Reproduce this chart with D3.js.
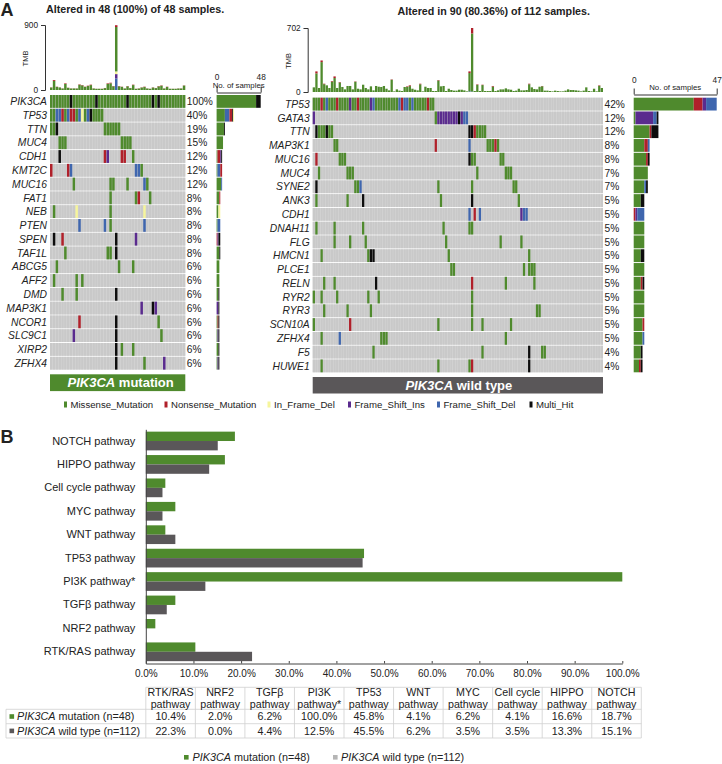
<!DOCTYPE html>
<html><head><meta charset="utf-8">
<script src="https://cdn.jsdelivr.net/npm/d3@7/dist/d3.min.js"></script>
<style>html,body{margin:0;padding:0;background:#fff}svg{display:block}text{font-family:"Liberation Sans",Arial,sans-serif;fill:#222}</style>
</head><body><svg id="c" width="722" height="764"></svg>
<script>
// ---------- data: oncoplots ----------
const mutTypes = ["Missense_Mutation","Nonsense_Mutation","In_Frame_Del","Frame_Shift_Ins","Frame_Shift_Del","Multi_Hit"];
const mutCodes = ["M","N","I","S","D","H"];
const mutColors = ["#4f8a2d","#b0202a","#f6f59c","#5a2b8e","#3f66ae","#0d0d0d"];

const leftGenes = ["PIK3CA","TP53","TTN","MUC4","CDH1","KMT2C","MUC16","FAT1","NEB","PTEN","SPEN","TAF1L","ABCG5","AFF2","DMD","MAP3K1","NCOR1","SLC9C1","XIRP2","ZFHX4"];
const leftPct = ["100%","40%","19%","15%","12%","12%","12%","8%","8%","8%","8%","8%","6%","6%","6%","6%","6%","6%","6%","6%"];
const leftMuts = [
 "0-6M 7H 8-15M 16H 17-26M 27H 28-35M 36H 37M 38H 39-47M",
 "0-1M 2-3D 4N 5M 6D 7-8N 9M 10D 11I 12M 13D 14H 15-18M",
 "0-1M 2H 19-24M",
 "3-5M 25-28M",
 "3H 19N 20S 25-26N 29M",
 "0N 6N 7D 30-31D 32M",
 "8M 21-22M 27M 33D 34M",
 "21M 30M 31N 35M",
 "1M 9I 21M 33I",
 "10D 19D 21M 33D",
 "1H 4N 23H 30S",
 "5M 20-21M 23H",
 "2M 24M 29M",
 "1M 9M 11M",
 "4M 9M 23H",
 "32S 36H 37S",
 "10N 23H 38M",
 "8S 23H 39M",
 "23H 25M 29M",
 "23H 33M 40S"];

const rightGenes = ["TP53","GATA3","TTN","MAP3K1","MUC16","MUC4","SYNE2","ANK3","CDH1","DNAH11","FLG","HMCN1","PLCE1","RELN","RYR2","RYR3","SCN10A","ZFHX4","F5","HUWE1"];
const rightPct = ["42%","12%","12%","8%","8%","7%","7%","5%","5%","5%","5%","5%","5%","5%","5%","5%","5%","5%","4%","4%"];
const rightMuts = [
 "0-2M 3N 4M 5D 6-8M 9N 10-13M 14S 15-16M 17N 18-21M 22S 23D 24-32M 33D 34N 35-36D 37M 38D 39-43M 44N 45-46M",
 "0S 47M 48-55S 56H 57S 58-59D",
 "1H 2-4M 5H 6-7M 60-61H 62N 63-66M",
 "8-9M 47N 60D 67-69M 70N 71M",
 "1N 10-12M 60H 61-62M 72-73M",
 "2M 13-15M 63M 74-76M",
 "1H 16-17M 18D 48M 61M 77-78M",
 "1M 13M 19H 49M 61H 79M",
 "60D 62N 64D 80S 81-82D",
 "1M 8M 19M 50M 60-61M",
 "8M 14M 20M 51M 72M 80M",
 "3M 21M 22-23H 52M 83M",
 "53-54M 81M 83-85M",
 "4M 8M 24H 61N 74M 85M",
 "0M 3M 9M 21M 25M 61M",
 "4M 13M 22M 61M 86-87M",
 "0M 14N 48M 61M 65M 76M",
 "3M 10D 26-28M 74M",
 "23M 65M 83H 88-89M",
 "3M 48M 60M 61N 83H"];

// ---------- data: tumour mutation burden ----------
const tmbLeftTotal = [37,138,46,37,23,92,32,23,23,23,78,69,46,60,74,23,18,18,18,28,92,101,55,897,55,46,23,55,28,74,18,23,37,46,23,18,37,28,55,64,23,46,18,18,18,23,23,64];
const tmbLeftNonsense = [3,12,3,2,2,8,2,2,1,2,6,5,4,5,6,2,1,1,2,2,8,8,4,25,4,3,2,4,2,6,2,3,3,5,2,1,3,2,5,5,2,4,1,1,1,2,2,3];
const tmbLeftDel = [[23,160]];
const tmbLeftIns = [[23,60]];
const tmbLeftInFrame = [[23,37]];
const tmbRightTotal = [51,226,44,346,91,73,44,120,171,44,109,55,29,66,66,29,116,36,29,80,44,29,62,18,66,58,55,66,36,18,138,7,29,15,11,55,62,73,36,25,18,91,7,58,44,44,11,11,131,62,66,11,36,22,15,15,25,25,18,7,226,702,11,84,11,80,11,11,11,66,11,18,29,29,40,29,25,11,15,36,18,18,22,91,51,33,29,58,66,15,15,11,7,15,11,7,7,15,29,22,22,18,15,7,15,51,11,7,36,7,73,44];
const tmbRightNonsense = [[1,22],[3,18],[4,5],[7,7],[8,18],[10,5],[16,4],[30,4],[36,6],[37,8],[41,6],[48,5],[60,18],[61,60],[63,5],[65,4],[69,7],[83,6],[88,3],[110,5]];
const tmbRightDel = [[60,7],[61,5]];

// ---------- data: pathways ----------
const pathwayCols = ["RTK/RAS","NRF2","TGFβ","PI3K","TP53","WNT","MYC","Cell cycle","HIPPO","NOTCH"];
const pathwayAxis = ["NOTCH pathway","HIPPO pathway","Cell cycle pathway","MYC pathway","WNT pathway","TP53 pathway","PI3K pathway*","TGFβ pathway","NRF2 pathway","RTK/RAS pathway"];
const pathwayHead2 = ["pathway","pathway","pathway","pathway*","pathway","pathway","pathway","pathway","pathway","pathway"];
const pathMutated = [10.4,2.0,6.2,100.0,45.8,4.1,6.2,4.1,16.6,18.7];
const pathWild = [22.3,0.0,4.4,12.5,45.5,6.2,3.5,3.5,13.3,15.1];
const pctTicks = [0,10,20,30,40,50,60,70,80,90,100];
const GREEN = "#4f8a2d", GREY = "#5a5759";

// ---------- helpers ----------
const svg = d3.select("#c");
function parseMuts(str){
  const out=[];
  str.split(" ").forEach(tok=>{
    const m=tok.match(/^(\d+)(?:-(\d+))?([A-Z])$/);
    const a=+m[1], b=m[2]?+m[2]:a;
    for(let i=a;i<=b;i++) out.push({i,code:m[3]});
  });
  return out;
}
const color = d3.scaleOrdinal(mutCodes,mutColors);

function oncoplot(o){
  const muts=o.muts.map(parseMuts);
  const x=d3.scaleBand(d3.range(o.n),[o.x0,o.x1]).paddingInner(0.12).paddingOuter(0);
  const y=d3.scaleBand(o.genes,[o.y0,o.y1]).paddingInner(0.07).paddingOuter(0);
  const g=svg.append("g");
  // rows
  g.append("g").selectAll("rect").data(o.genes).join("rect")
    .attr("x",o.x0).attr("width",o.x1-o.x0).attr("y",d=>y(d)).attr("height",y.bandwidth()).attr("fill","#dcdcdc");
  o.genes.forEach((gene,r)=>{
    g.append("g").selectAll("rect").data(d3.range(o.n)).join("rect")
      .attr("x",d=>x(d)).attr("width",x.bandwidth()).attr("y",y(gene)).attr("height",y.bandwidth()).attr("fill","#c9c9c9");
    g.append("g").selectAll("rect").data(muts[r]).join("rect")
      .attr("x",d=>x(d.i)).attr("width",x.bandwidth()).attr("y",y(gene)).attr("height",y.bandwidth()).attr("fill",d=>color(d.code));
  });
  // labels
  g.append("g").selectAll("text").data(o.genes).join("text")
    .attr("x",o.x0-3).attr("y",d=>y(d)+y.bandwidth()/2).attr("dy","0.36em").attr("text-anchor","end")
    .attr("font-size",10.3).attr("font-style","italic").text(d=>d);
  g.append("g").selectAll("text").data(o.pct).join("text")
    .attr("x",o.x1+1.5).attr("y",(d,i)=>y(o.genes[i])+y.bandwidth()/2).attr("dy","0.36em")
    .attr("font-size",10.2).attr("fill","#333").text(d=>d);
  // TMB stack
  const rows=o.tmb.map(r=>r);
  const stack=d3.stack().keys(["D","S","I","M","N"])(rows);
  const ty=d3.scaleLinear([0,o.tmbMax],[o.tmbY0,o.tmbY1]);
  g.append("g").selectAll("g").data(stack).join("g").attr("fill",s=>color(s.key))
    .selectAll("rect").data(s=>s).join("rect")
    .attr("x",(d,i)=>x(i)).attr("width",x.bandwidth())
    .attr("y",d=>ty(d[1])).attr("height",d=>Math.max(0,ty(d[0])-ty(d[1])));
  const ax=g.append("g").attr("transform",`translate(${o.x0-5},0)`)
    .call(d3.axisLeft(ty).tickValues([0,o.tmbMax]).tickSize(4).tickPadding(3));
  ax.selectAll("text").attr("font-size",8.3).attr("font-family",null);
  ax.selectAll("path,line").attr("stroke","#333");
  g.append("text").attr("transform",`translate(${o.x0-o.tmbLabelDx},${(o.tmbY0+o.tmbY1)/2+1}) rotate(-90)`)
    .attr("text-anchor","middle").attr("dy","0.35em").attr("font-size",7.5).attr("fill","#333").text("TMB");
  // side bars
  const sx=d3.scaleLinear([0,o.sideMax],[o.sx0,o.sx1]);
  muts.forEach((list,r)=>{
    const counts=d3.rollup(list,v=>v.length,d=>d.code);
    let acc=0;
    o.sideOrder.forEach(c=>{
      const v=counts.get(c)||0;
      if(!v) return;
      g.append("rect").attr("x",sx(acc)).attr("width",sx(acc+v)-sx(acc))
       .attr("y",y(o.genes[r])).attr("height",y.bandwidth()).attr("fill",color(c));
      acc+=v;
    });
  });
  const sa=g.append("g").attr("transform",`translate(0,${o.sideAxisY})`)
    .call(d3.axisTop(sx).tickValues([0,o.sideMax]).tickSizeOuter(0).tickSizeInner(6).tickPadding(o.sidePad));
  sa.selectAll("text").attr("font-size",8.3).attr("font-family",null);
  sa.selectAll("path,line").attr("stroke","#333");
  g.append("text").attr("x",(o.sx0+o.sx1)/2).attr("y",o.sideAxisY-4.2).attr("text-anchor","middle")
    .attr("font-size",7.8).attr("fill","#333").text("No. of samples");
  // title
  svg.append("text").attr("x",o.titleX).attr("y",o.titleY).attr("font-size",10.7).attr("font-weight","bold").text(o.title);
  // banner
  g.append("rect").attr("x",o.x0).attr("width",o.x1-o.x0).attr("y",o.banY).attr("height",o.banH).attr("fill",o.banFill);
  const bt=g.append("text").attr("x",(o.x0+o.x1)/2+o.banDx).attr("y",o.banY+o.banH/2).attr("dy","0.36em")
    .attr("text-anchor","middle").attr("font-size",13).attr("font-weight","bold");
  bt.append("tspan").attr("font-style","italic").style("fill","#fff").text("PIK3CA");
  bt.append("tspan").style("fill","#fff").text(" "+o.banText);
}

// table rows for the stack
const leftRows = tmbLeftTotal.map((t,i)=>{
  const get=a=>{const f=a.find(e=>e[0]===i);return f?f[1]:0;};
  const D=get(tmbLeftDel),S=get(tmbLeftIns),I=get(tmbLeftInFrame),N=tmbLeftNonsense[i];
  return {D,S,I,N,M:t-D-S-I-N};
});
const rightRows = tmbRightTotal.map((t,i)=>{
  const get=a=>{const f=a.find(e=>e[0]===i);return f?f[1]:0;};
  const D=get(tmbRightDel),N=get(tmbRightNonsense);
  return {D,S:0,I:0,N,M:t-D-N};
});

oncoplot({n:48,genes:leftGenes,pct:leftPct,muts:leftMuts,tmb:leftRows,x0:50,x1:185.3,y0:95,y1:369.6,
  tmbMax:900,tmbY0:90,tmbY1:25,tmbLabelDx:24.5,sx0:216.6,sx1:260.7,sideMax:48,sideAxisY:92.5,sidePad:6.2,sideOrder:["M","D","N","S","H","I"],
  title:"Altered in 48 (100%) of 48 samples.",titleX:46,titleY:12.5,banY:374.3,banH:16.8,banFill:GREEN,banText:"mutation",banDx:3});
oncoplot({n:112,genes:rightGenes,pct:rightPct,muts:rightMuts,tmb:rightRows,x0:312.7,x1:603,y0:97.7,y1:372.3,
  tmbMax:702,tmbY0:92,tmbY1:28,tmbLabelDx:24.5,sx0:633.7,sx1:716.7,sideMax:47,sideAxisY:94.5,sidePad:5.5,sideOrder:["M","N","I","S","D","H"],
  title:"Altered in 90 (80.36%) of 112 samples.",titleX:397.5,titleY:15,banY:377,banH:16.5,banFill:GREY,banText:"wild type",banDx:1});

svg.append("text").attr("x",0.5).attr("y",15.5).attr("font-size",18).attr("font-weight","bold").attr("fill","#111").text("A");
svg.append("text").attr("x",0.5).attr("y",442.5).attr("font-size",18).attr("font-weight","bold").attr("fill","#111").text("B");

// mutation legend
const legendX = d3.scaleOrdinal(mutCodes,[64,164.5,267.5,348,437,529.5]);
const lg=svg.append("g").selectAll("g").data(mutCodes).join("g").attr("transform",d=>`translate(${legendX(d)},404.5)`);
lg.append("rect").attr("x",0).attr("y",-3).attr("width",3).attr("height",6).attr("fill",d=>color(d));
lg.append("text").attr("x",6.5).attr("dy","0.36em").attr("font-size",9.6).attr("fill","#333").text((d,i)=>mutTypes[i]);

// ---------- panel B ----------
const bx=d3.scaleLinear([0,100],[145.8,622.3]);
const by=d3.scaleBand(pathwayAxis,[429.3,663.5]).paddingInner(0.2).paddingOuter(0.1);
const bsub=d3.scaleBand(["m","w"],[0,by.bandwidth()]);
const colIndex=name=>pathwayCols.findIndex(c=>name.startsWith(c));
const bg=svg.append("g");
bg.selectAll("g").data(pathwayAxis).join("g").each(function(name){
  const k=colIndex(name);
  d3.select(this).selectAll("rect").data([["m",pathMutated[k],GREEN],["w",pathWild[k],GREY]]).join("rect")
    .attr("x",bx(0)).attr("width",d=>bx(d[1])-bx(0))
    .attr("y",d=>by(name)+bsub(d[0])).attr("height",bsub.bandwidth()).attr("fill",d=>d[2]);
});
const bax=svg.append("g").attr("transform","translate(0,663.5)")
  .call(d3.axisBottom(bx).tickValues(pctTicks).tickFormat(d=>d.toFixed(1)+"%").tickSizeOuter(0).tickSizeInner(-2.5).tickPadding(6));
bax.selectAll("text").attr("font-size",10).attr("font-family",null);
bax.selectAll("path,line").attr("stroke","#444");
const bay=svg.append("g").attr("transform","translate(145.8,0)")
  .call(d3.axisLeft(by).tickSize(0).tickSizeOuter(0).tickPadding(10.5));
bay.selectAll("text").attr("font-size",11).attr("font-family",null);
bay.select("path").attr("stroke","#444").attr("stroke-width",1);

// ---------- table ----------
const tx=d3.scaleBand(pathwayCols,[145.8,641.3]);
const rowYs=[687.3,709.3,723.7,738];
const tbl=svg.append("g").attr("stroke","#cfcfcf").attr("stroke-width",0.8);
tbl.selectAll("line.v").data(d3.range(11)).join("line").attr("class","v")
  .attr("x1",i=>145.8+i*tx.step()).attr("x2",i=>145.8+i*tx.step()).attr("y1",rowYs[0]).attr("y2",rowYs[3]);
tbl.append("line").attr("x1",6).attr("x2",6).attr("y1",rowYs[1]).attr("y2",rowYs[3]);
tbl.selectAll("line.h").data(rowYs).join("line").attr("class","h")
  .attr("x1",(d,i)=>i===0?145.8:6).attr("x2",641.3).attr("y1",d=>d).attr("y2",d=>d);
const fs=10.7;
const tt=svg.append("g").attr("font-size",fs).attr("text-anchor","middle");
pathwayCols.forEach((c,i)=>{
  const cx=tx(c)+tx.bandwidth()/2;
  tt.append("text").attr("x",cx).attr("y",696.2).attr("fill","#333").text(c);
  tt.append("text").attr("x",cx).attr("y",707.5).attr("fill","#333").text(pathwayHead2[i]);
  tt.append("text").attr("x",cx).attr("y",720).attr("fill","#333").text(pathMutated[i].toFixed(1)+"%");
  tt.append("text").attr("x",cx).attr("y",734.6).attr("fill","#333").text(pathWild[i].toFixed(1)+"%");
});
function keyRow(parent,sqx,tx0,y,fill,rest){
  parent.append("rect").attr("x",sqx).attr("y",y-2.3).attr("width",4.6).attr("height",4.6).attr("fill",fill);
  const t=parent.append("text").attr("x",tx0).attr("y",y).attr("dy","0.35em").attr("font-size",10.8).attr("fill","#333");
  t.append("tspan").attr("font-style","italic").text("PIK3CA");
  t.append("tspan").text(" "+rest);
}
keyRow(svg,9.5,17,716.5,GREEN,"mutation (n=48)");
keyRow(svg,9.5,17,730.9,GREY,"wild type (n=112)");
keyRow(svg,184,192.5,757.3,GREEN,"mutation (n=48)");
keyRow(svg,333,341,757.3,"#b5b5b5","wild type (n=112)");
</script></body></html>
